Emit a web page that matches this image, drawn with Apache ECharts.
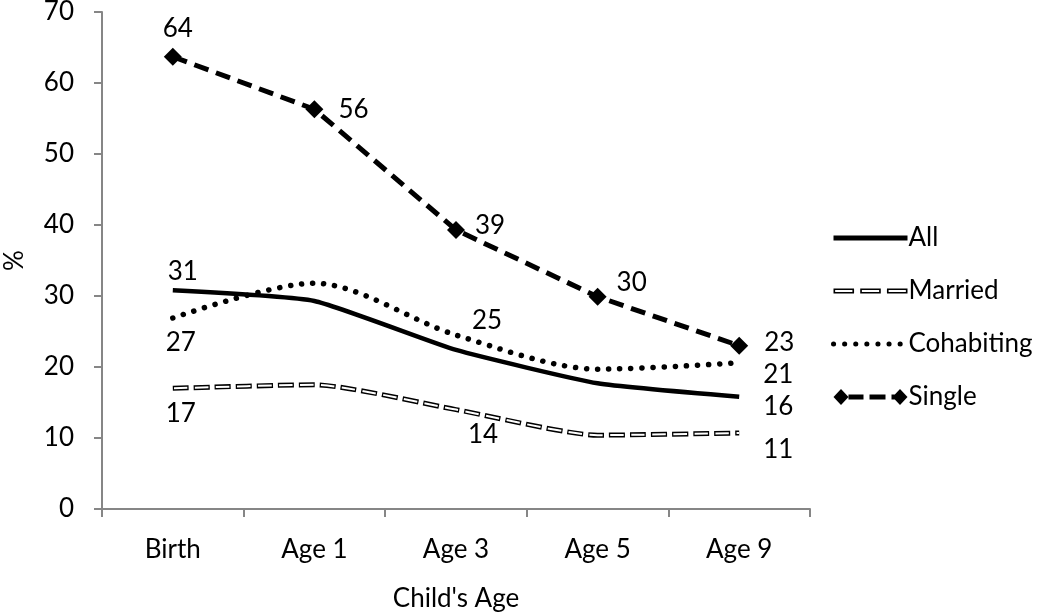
<!DOCTYPE html>
<html>
<head>
<meta charset="utf-8">
<script src="https://cdn.jsdelivr.net/npm/echarts@6/dist/echarts.min.js"></script>
<style>html,body{margin:0;padding:0;background:#fff}#c{width:1050px;height:615px}</style>
</head>
<body>
<div id="c"></div>
<script>
var categories = ['Birth', 'Age 1', 'Age 3', 'Age 5', 'Age 9'];
var allValues = [30.8, 29.3, 22.4, 17.7, 15.8];
var marriedValues = [17.0, 17.5, 14.0, 10.4, 10.7];
var cohabitingValues = [26.9, 31.8, 24.5, 19.7, 20.6];
var singleValues = [63.7, 56.3, 39.3, 29.9, 23.0];
var yTicks = [0, 10, 20, 30, 40, 50, 60, 70];

var FONT = 'Lato';
var FS = 26;

// legend icon shapes (outlined dashes for Married, diamond-dash-diamond for Single)
function outlinedDash(x0, x1) {
  return 'M' + x0 + ' 6.5 H' + x1 + ' V11.5 H' + x0 + ' Z ' +
         'M' + (x0 + 1.6) + ' 8.1 V9.9 H' + (x1 - 1.6) + ' V8.1 Z ';
}
var marriedIcon = 'path://' + outlinedDash(0, 20) + outlinedDash(26, 46) + outlinedDash(52, 72);
var singleIcon = 'path://M0 9 L7.5 1 L15 9 L7.5 17 Z M15 6.5 H30 V11.5 H15 Z M36 6.5 H52 V11.5 H36 Z M58 6.5 H62 V11.5 H58 Z M59 9 L66.5 1 L74 9 L66.5 17 Z';

function withLabels(values, cfg) {
  return values.map(function (v, i) {
    var c = cfg[i];
    if (!c) return { value: v, label: { show: false } };
    return {
      value: v,
      label: {
        show: true,
        position: c.pos,
        offset: c.off || [0, 0],
        distance: c.dist == null ? 6 : c.dist,
        formatter: function (p) { return Math.round(p.value); },
        color: '#000', fontFamily: FONT, fontSize: FS
      }
    };
  });
}

var chart = echarts.init(document.getElementById('c'), null, { renderer: 'canvas' });
var option = {
  animation: false,
  backgroundColor: '#fff',
  grid: { left: 102, right: 240, top: 12, bottom: 106, containLabel: false, outerBoundsMode: 'none' },
  xAxis: {
    type: 'category',
    data: categories,
    boundaryGap: true,
    name: "Child's Age",
    nameLocation: 'middle',
    nameGap: 77,
    nameTextStyle: { color: '#000', fontFamily: FONT, fontSize: FS },
    axisLine: { lineStyle: { color: '#868686', width: 2 } },
    axisTick: { show: true, length: 8, lineStyle: { color: '#868686', width: 2 } },
    axisLabel: { color: '#000', fontFamily: FONT, fontSize: FS, margin: 28 },
    splitLine: { show: false }
  },
  yAxis: {
    type: 'value',
    min: yTicks[0],
    max: yTicks[yTicks.length - 1],
    interval: yTicks[1] - yTicks[0],
    name: '%',
    nameLocation: 'middle',
    nameRotate: 90,
    nameGap: 74,
    nameTextStyle: { color: '#000', fontFamily: FONT, fontSize: FS },
    axisLine: { show: true, lineStyle: { color: '#868686', width: 2 } },
    axisTick: { show: true, length: 8, lineStyle: { color: '#868686', width: 2 } },
    axisLabel: { color: '#000', fontFamily: FONT, fontSize: FS, margin: 28 },
    splitLine: { show: false }
  },
  legend: {
    orient: 'vertical',
    left: 826,
    top: 220,
    itemWidth: 74,
    itemHeight: 18,
    itemGap: 27,
    symbolKeepAspect: true,
    data: [
      { name: 'All', itemStyle: { opacity: 0 }, lineStyle: { width: 5 } },
      { name: 'Married', icon: marriedIcon, itemStyle: { color: '#000', borderWidth: 0 } },
      { name: 'Cohabiting', itemStyle: { opacity: 0 }, lineStyle: { width: 5 } },
      { name: 'Single', icon: singleIcon, itemStyle: { color: '#000', borderWidth: 0 } }
    ],
    textStyle: { color: '#000', fontFamily: FONT, fontSize: FS, lineHeight: 22, padding: [0, 0, 0, -4] }
  },
  series: [
    {
      name: 'All', type: 'line', smooth: 0.15, symbol: 'circle', symbolSize: 0.01, showSymbol: true, z: 3,
      lineStyle: { color: '#000', width: 4.5, type: 'solid' },
      itemStyle: { color: '#000' },
      data: withLabels(allValues, {
        0: { pos: 'top', dist: 6, off: [10, 0] },
        4: { pos: 'right', dist: 24, off: [0, 10] }
      })
    },
    {
      name: 'Married', type: 'line', smooth: 0.2, symbol: 'circle', symbolSize: 0.01, showSymbol: true, z: 2,
      lineStyle: { color: '#000', width: 5, type: [16, 5], cap: 'butt' },
      itemStyle: { color: '#000' },
      data: withLabels(marriedValues, {
        0: { pos: 'bottom', dist: 12, off: [8, 0] },
        2: { pos: 'bottom', dist: 14, off: [27, -2] },
        4: { pos: 'right', dist: 24, off: [0, 17] }
      })
    },
    {
      name: 'MarriedInner', type: 'line', smooth: 0.2, symbol: 'none', z: 2, silent: true,
      lineStyle: { color: '#fff', width: 2, type: [13.5, 7.5], dashOffset: -1.25, cap: 'butt' },
      itemStyle: { color: '#fff' },
      data: marriedValues
    },
    {
      name: 'Cohabiting', type: 'line', smooth: 0.3, symbol: 'circle', symbolSize: 0.01, showSymbol: true, z: 2,
      lineStyle: { color: '#000', width: 5.5, type: [0.1, 11], cap: 'round' },
      itemStyle: { color: '#000' },
      data: withLabels(cohabitingValues, {
        0: { pos: 'bottom', dist: 10, off: [8, 2] },
        2: { pos: 'top', dist: 6, off: [31, 5] },
        4: { pos: 'right', dist: 24, off: [0, 12] }
      })
    },
    {
      name: 'Single', type: 'line', smooth: false, symbol: 'diamond', symbolSize: 18, showSymbol: true, z: 4,
      lineStyle: { color: '#000', width: 5, type: [15, 8], cap: 'butt' },
      itemStyle: { color: '#000' },
      data: withLabels(singleValues, {
        0: { pos: 'top', dist: 6, off: [5, 0] },
        1: { pos: 'right', dist: 15, off: [0, 0] },
        2: { pos: 'right', dist: 10, off: [0, -4] },
        3: { pos: 'right', dist: 10, off: [0, -14] },
        4: { pos: 'right', dist: 16, off: [0, -3] }
      })
    }
  ]
};
chart.setOption(option);
</script>
</body>
</html>
